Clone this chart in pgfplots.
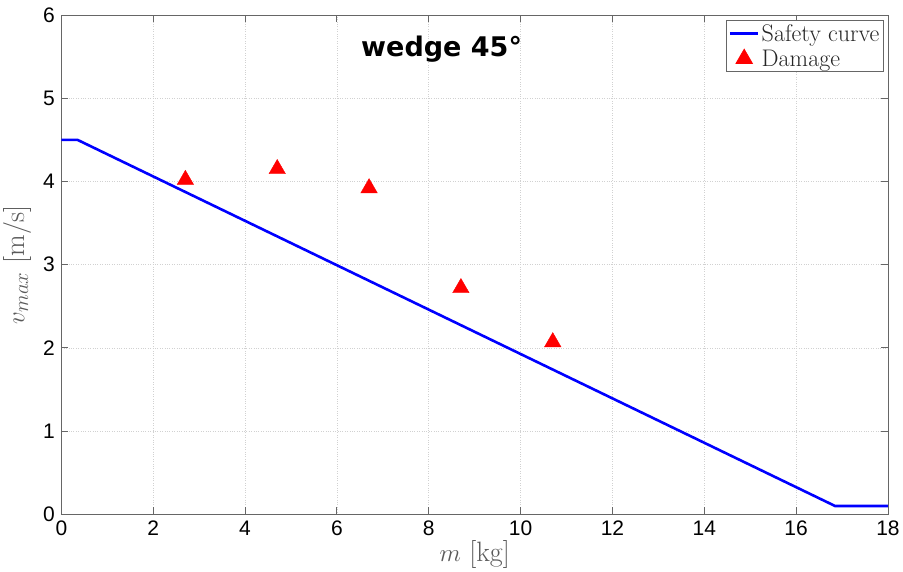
\documentclass[border=0pt]{standalone}
\usepackage{fontspec}
\usepackage{pgfplots}
\pgfplotsset{compat=1.18}
\newfontfamily\tickfont{Liberation Sans}
\newfontfamily\titlefont{DejaVu Sans}
\pgfplotsset{
  longline/.style={legend image code/.code={\draw[##1] (0cm,0cm) -- (1.0cm,0cm);}},
  markleg/.style={legend image code/.code={\draw[mark repeat=2,mark phase=2,##1] plot coordinates {(0cm,0cm) (0.5cm,0cm) (1.0cm,0cm)};}},
}
\begin{document}
\begin{tikzpicture}
\begin{axis}[
  scale only axis,
  width=826pt, height=499pt,
  xmin=0, xmax=18, ymin=0, ymax=6,
  xtick={0,2,...,18}, ytick={0,1,...,6},
  tick align=inside,
  major tick length=7pt,
  axis line style={black!60, line width=0.9pt},
  tick style={black!60, line width=0.9pt},
  grid=major,
  major grid style={black!18, dotted, line width=0.7pt},
  /pgf/number format/assume math mode=true,
  tick label style={font=\tickfont\fontsize{21}{25}\selectfont, text=black},
  xticklabel style={yshift=-3pt},
  yticklabel style={xshift=-3pt},
  xlabel={$m$ [kg]},
  ylabel={$v_{max}$ [m/s]},
  label style={font=\fontsize{28}{32}\selectfont, text=black!65},
  xlabel style={yshift=2pt},
  ylabel style={yshift=5pt},
  legend style={at={(0.995,0.99)}, anchor=north east, font=\fontsize{24}{27}\selectfont,
    draw=black!60, line width=0.7pt, inner xsep=2pt, inner ysep=2pt, row sep=3pt, text=black!85},
  legend cell align=left,
]
\addplot[blue, line width=2.6pt, longline] coordinates {(0,4.5) (0.35,4.5) (16.85,0.1) (18,0.1)};
\addlegendentry{Safety curve}
\addplot[only marks, mark=triangle*, mark size=9.5pt, color=red, fill=red, markleg] coordinates {
  (2.7,4.02) (4.7,4.15) (6.7,3.92) (8.7,2.72) (10.7,2.07)};
\addlegendentry{Damage}
\node[font=\titlefont\bfseries\fontsize{27}{32}\selectfont] at (rel axis cs:0.460,0.932) {wedge 45°};
\end{axis}
\path ([yshift=15pt]current axis.north west);
\end{tikzpicture}
\end{document}
